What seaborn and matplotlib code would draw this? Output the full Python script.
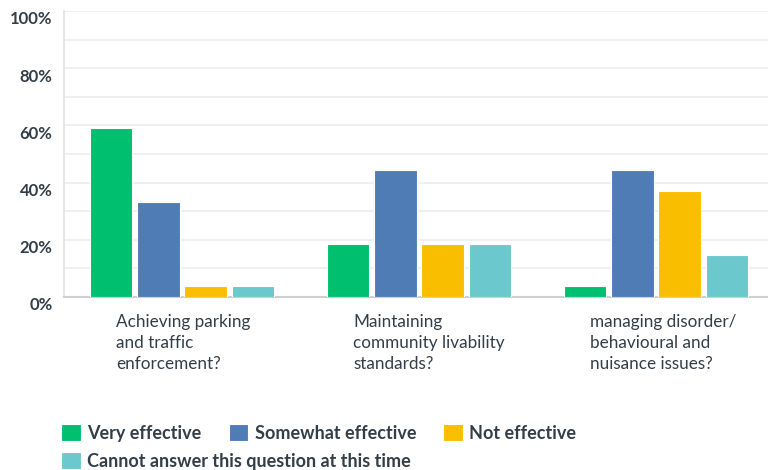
import matplotlib
matplotlib.use("Agg")
import matplotlib.pyplot as plt
import matplotlib.transforms as mtransforms
import seaborn as sns
import pandas as pd

# Survey answers, share of respondents (%)
questions = [
    "Achieving parking\nand traffic\nenforcement?",
    "Maintaining\ncommunity livability\nstandards?",
    "managing disorder/\nbehavioural and\nnuisance issues?",
]
answers = [
    "Very effective",
    "Somewhat effective",
    "Not effective",
    "Cannot answer this question at this time",
]
very_effective = [59.26, 18.52, 3.70]
somewhat_effective = [33.33, 44.44, 44.44]
not_effective = [3.70, 18.52, 37.04]
cannot_answer = [3.70, 18.52, 14.81]
y_ticks = [0, 20, 40, 60, 80, 100]
y_tick_labels = ["0%", "20%", "40%", "60%", "80%", "100%"]

palette = ["#00BF6F", "#507CB6", "#F9BE00", "#6BC8CD"]

rows = []
for answer, values in zip(answers, [very_effective, somewhat_effective,
                                    not_effective, cannot_answer]):
    for q, v in zip(questions, values):
        rows.append({"question": q, "answer": answer, "share": v})
df = pd.DataFrame(rows)

sns.set_theme(style="white")
plt.rcParams["font.family"] = ["Lato", "DejaVu Sans"]

fig = plt.figure(figsize=(7.68, 4.70), dpi=100)
ax = fig.add_axes([63.5 / 768, 1 - 297 / 470, 711 / 768, 286 / 470])

sns.barplot(data=df, x="question", y="share", hue="answer",
            order=questions, hue_order=answers, palette=palette,
            width=0.8, gap=0.1, saturation=1, ax=ax, zorder=3)

ax.set_xlim(-0.5, 2.5)
ax.set_ylim(0, 100)
ax.set_xlabel("")
ax.set_ylabel("")

# light horizontal guides every 10%
ax.set_yticks(range(0, 101, 10), minor=True)
ax.grid(axis="y", which="both", color="#EEEEEE", linewidth=1.2, zorder=0)
ax.set_yticks(y_ticks)
ax.set_yticklabels(y_tick_labels, fontsize=12, fontweight="bold", color="#333E48")
ax.tick_params(axis="y", which="both", length=0, pad=8)
ax.tick_params(axis="x", length=0, pad=0)

ylab_shift = mtransforms.ScaledTranslation(0, -7 / 100, fig.dpi_scale_trans)
for lab in ax.get_yticklabels():
    lab.set_transform(lab.get_transform() + ylab_shift)

ax.set_xticks(range(len(questions)))
ax.set_xticklabels(questions, fontsize=12.3, color="#333E48", ha="left",
                   va="top", linespacing=1.4)
xlab_shift = mtransforms.ScaledTranslation(-66 / 100, -17 / 100, fig.dpi_scale_trans)
for lab in ax.get_xticklabels():
    lab.set_transform(lab.get_transform() + xlab_shift)

for side in ["top", "right"]:
    ax.spines[side].set_visible(False)
ax.spines["left"].set_color("#E2E2E2")
ax.spines["left"].set_linewidth(1.2)
ax.spines["bottom"].set_color("#CFCFCF")
ax.spines["bottom"].set_linewidth(1.5)

for bar in ax.patches:
    bar.set_edgecolor("white")
    bar.set_linewidth(0.8)

handles, labels = ax.get_legend_handles_labels()
ax.get_legend().remove()

legend_kw = dict(frameon=False, prop={"size": 13, "weight": "bold"},
                 labelcolor="#333E48", handlelength=1.1, handleheight=1.1,
                 handletextpad=0.35, borderaxespad=0, borderpad=0)
leg1 = fig.legend(handles[:3], labels[:3], ncol=3, columnspacing=1.5,
                  loc="center left", bbox_to_anchor=(61 / 768, 1 - 433 / 470),
                  **legend_kw)
leg2 = fig.legend(handles[3:], labels[3:], ncol=1,
                  loc="center left", bbox_to_anchor=(61 / 768, 1 - 461 / 470),
                  **legend_kw)

fig.savefig("out.png", dpi=100)
